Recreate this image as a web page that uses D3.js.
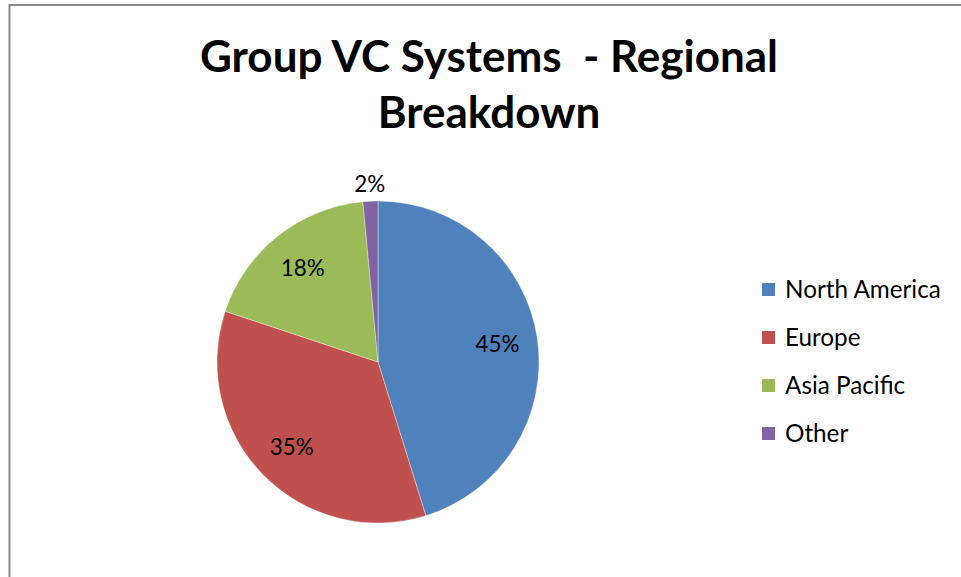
<!DOCTYPE html>
<html>
<head>
<meta charset="utf-8">
<script src="https://cdn.jsdelivr.net/npm/d3@7"></script>
<style>
  html, body { margin: 0; padding: 0; background: #fff; }
  svg { display: block; }
  text { white-space: pre; }
</style>
</head>
<body>
<div class="chart-container"></div>
<script>
//! DATA
const regions = ['North America', 'Europe', 'Asia Pacific', 'Other']
const shares = [45.2, 34.9, 18.4, 1.5]
const colors = ['#4F81BD', '#C0504D', '#9BBB59', '#8064A2']
const titleLines = ['Group VC Systems  - Regional', 'Breakdown']

//! CONSTS
const width = 961
const height = 577
const cx = 378, cy = 362, radius = 161
const font = 'Lato, "Open Sans", sans-serif'

//! SVG
const svg = d3.select('.chart-container')
  .append('svg')
  .attr('width', width)
  .attr('height', height)

// chart area border (right/bottom edges fall outside the window)
svg.append('rect')
  .attr('x', 9.5).attr('y', 5)
  .attr('width', width + 10).attr('height', height + 10)
  .attr('fill', 'none')
  .attr('stroke', '#8a8a8a')
  .attr('stroke-width', 2)

// size a whole selection so that the node at index `ref` is `target` px wide
const fitWidth = (sel, target, start, ref = 0) => {
  sel.attr('font-size', start)
  const w = sel.nodes()[ref].getComputedTextLength()
  sel.attr('font-size', start * target / w)
}

//! TITLE
const title = svg.append('g')
  .selectAll('text')
  .data(titleLines)
  .enter()
  .append('text')
  .attr('x', 489)
  .attr('y', (d, i) => 72 + i * 56)
  .attr('text-anchor', 'middle')
  .attr('font-family', font)
  .attr('font-weight', 'bold')
  .attr('fill', '#000')
  .text(d => d)
fitWidth(title, 578, 40)

//! PIE
const pie = d3.pie().sort(null).value(d => d)
const arcs = pie(shares)
const total = d3.sum(shares)

const arc = d3.arc().innerRadius(0).outerRadius(radius)
const labelArc = d3.arc().innerRadius(radius * 0.75).outerRadius(radius * 0.75)
const outerArc = d3.arc().innerRadius(radius + 17).outerRadius(radius + 17)

const g = svg.append('g').attr('transform', `translate(${cx},${cy})`)

g.selectAll('path')
  .data(arcs)
  .enter()
  .append('path')
  .attr('d', arc)
  .attr('fill', (d, i) => colors[i])
  .attr('stroke', '#ffffff')
  .attr('stroke-opacity', 0.6)
  .attr('stroke-width', 0.6)

const pct = g.selectAll('text.pct')
  .data(arcs)
  .enter()
  .append('text')
  .attr('class', 'pct')
  .attr('transform', d => {
    const p = (d.value / total < 0.05 ? outerArc : labelArc).centroid(d)
    return `translate(${p[0]},${p[1]})`
  })
  .attr('text-anchor', 'middle')
  .attr('dy', '0.36em')
  .attr('font-family', font)
  .attr('fill', '#000')
  .text(d => `${Math.round(d.value / total * 100)}%`)
fitWidth(pct, 44, 22)

//! LEGEND
const legend = svg.append('g')
  .selectAll('g')
  .data(regions)
  .enter()
  .append('g')
  .attr('transform', (d, i) => `translate(762,${283 + i * 48})`)

legend.append('rect')
  .attr('width', 13)
  .attr('height', 13)
  .attr('fill', (d, i) => colors[i])

const legendText = legend.append('text')
  .attr('x', 23)
  .attr('y', 6.5)
  .attr('dy', '0.36em')
  .attr('font-family', font)
  .attr('fill', '#000')
  .text(d => d)
fitWidth(legendText, 156, 22)
</script>
</body>
</html>
